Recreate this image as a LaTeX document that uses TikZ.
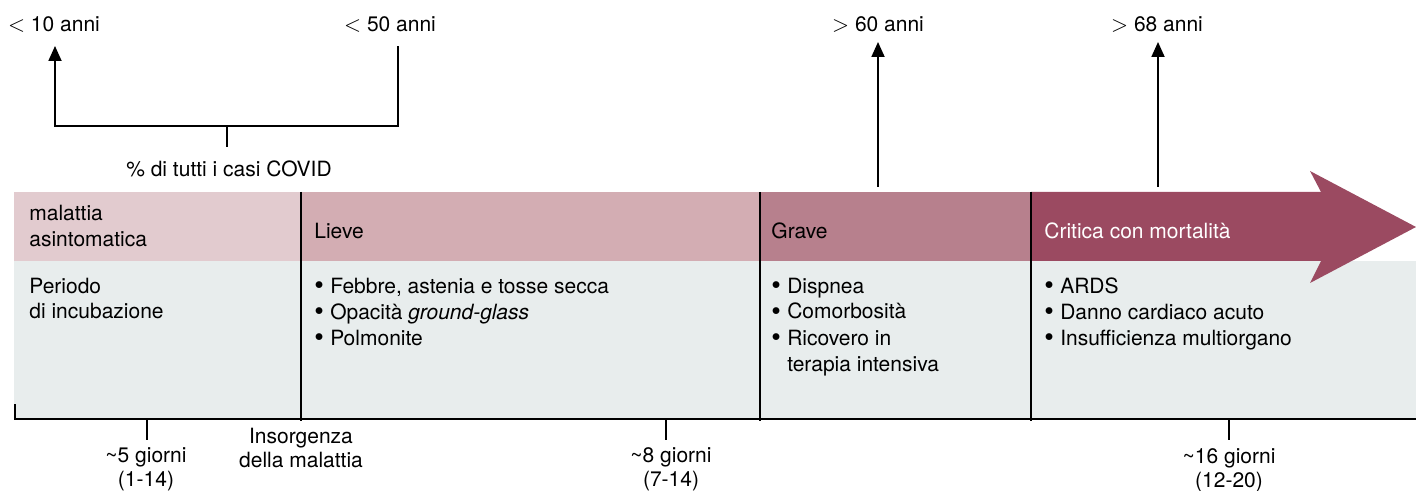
\documentclass[tikz,border=0pt]{standalone}
\usepackage{fontspec}
\setmainfont{TeX Gyre Heros}
\usetikzlibrary{arrows.meta}
\definecolor{asin}{HTML}{E2CBCF}
\definecolor{liev}{HTML}{D3ADB3}
\definecolor{grav}{HTML}{B7808D}
\definecolor{crit}{HTML}{9B4A61}
\definecolor{corp}{HTML}{E8EDED}
\tikzset{
  txt/.style={font=\fontsize{10.5}{13}\selectfont, inner sep=0pt, align=left, anchor=base west},
  ctr/.style={font=\fontsize{10.5}{12}\selectfont, inner sep=0pt, align=center, anchor=base},
  tra/.style={-{Triangle[width=6.5pt,length=7.5pt]}, line width=0.9pt},
  sep/.style={line width=0.8pt},
  tck/.style={line width=0.9pt}
}
\newcommand{\blt}{\raisebox{-0.15ex}{\scalebox{1.3}{\textbullet}}}
\newcommand{\itm}{\blt\hspace{0.3em}}
\newcommand{\hng}{\phantom{\blt}\hspace{0.3em}}

\begin{document}
\begin{tikzpicture}[x=0.5pt, y=-0.5pt]
	\useasboundingbox (0,0) rectangle (1416,491);
	\fill[corp] (14,261) rectangle (1416,419);
	\fill[asin] (14,192) rectangle (301,261);
	\fill[liev] (301,192) rectangle (760,261);
	\fill[grav] (760,192) rectangle (1031,261);
	\fill[crit] (1031,192) -- (1321,192) -- (1310,171) -- (1416,227) -- (1310,283) -- (1321,261) -- (1031,261) -- cycle;
	\draw[sep] (301,192) -- (301,421);
	\draw[sep] (760,192) -- (760,421);
	\draw[sep] (1031,192) -- (1031,421);
	\draw[tck] (15,404) -- (15,419) -- (1416,419);
	\node[txt] (asi) at (29,247) {malattia\\asintomatica};
	\node[txt] (lie) at (314,239) {Lieve};
	\node[txt] (gra) at (771,239) {Grave};
	\node[txt, text=white] (cri) at (1044,239) {Critica con mortalità};
	\node[txt] (inc) at (29,319) {Periodo\\di incubazione};
	\node[txt] (lsy) at (314,345) {\itm Febbre, astenia e tosse secca\\\itm Opacità \textit{ground-glass}\\\itm Polmonite};
	\node[txt] (gsy) at (771,371) {\itm Dispnea\\\itm Comorbosità\\\itm Ricovero in\\\hng terapia intensiva};
	\node[txt] (csy) at (1044,345) {\itm ARDS\\\itm Danno cardiaco acuto\\\itm Insufficienza multiorgano};
	\coordinate (d5) at (147,419);
	\coordinate (d8) at (666,419);
	\coordinate (d16) at (1229,419);
	\node[ctr] (g5) at (146,486) {\textasciitilde5 giorni\\(1-14)};
	\node[ctr] (ons) at (301,467) {Insorgenza\\della malattia};
	\node[ctr] (g8) at (671,486) {\textasciitilde8 giorni\\(7-14)};
	\node[ctr] (g16) at (1229,487) {\textasciitilde16 giorni\\(12-20)};
	\draw[tck] (d5) -- +(0,21);
	\draw[tck] (d8) -- +(0,21);
	\draw[tck] (d16) -- +(0,21);
	\node[ctr] (a10) at (54,32) {$<$ 10 anni};
	\node[ctr] (a50) at (390,32) {$<$ 50 anni};
	\node[ctr] (a60) at (878,32) {$>$ 60 anni};
	\node[ctr] (a68) at (1157,32) {$>$ 68 anni};
	\node[ctr] (pct) at (229,177) {\% di tutti i casi COVID};
	\coordinate (t10) at (55,46);
	\coordinate (t50) at (398,46);
	\coordinate (t60) at (878,42);
	\coordinate (t68) at (1158,42);
	\draw[tra, {Triangle[width=6.5pt,length=7.5pt]}-] (t10) -- (55,126) -- (398,126) -- (t50);
	\draw[tck] (227,126) -- (227,147);
	\draw[tra] (878,187) -- (t60);
	\draw[tra] (1158,187) -- (t68);
\end{tikzpicture}
\end{document}
